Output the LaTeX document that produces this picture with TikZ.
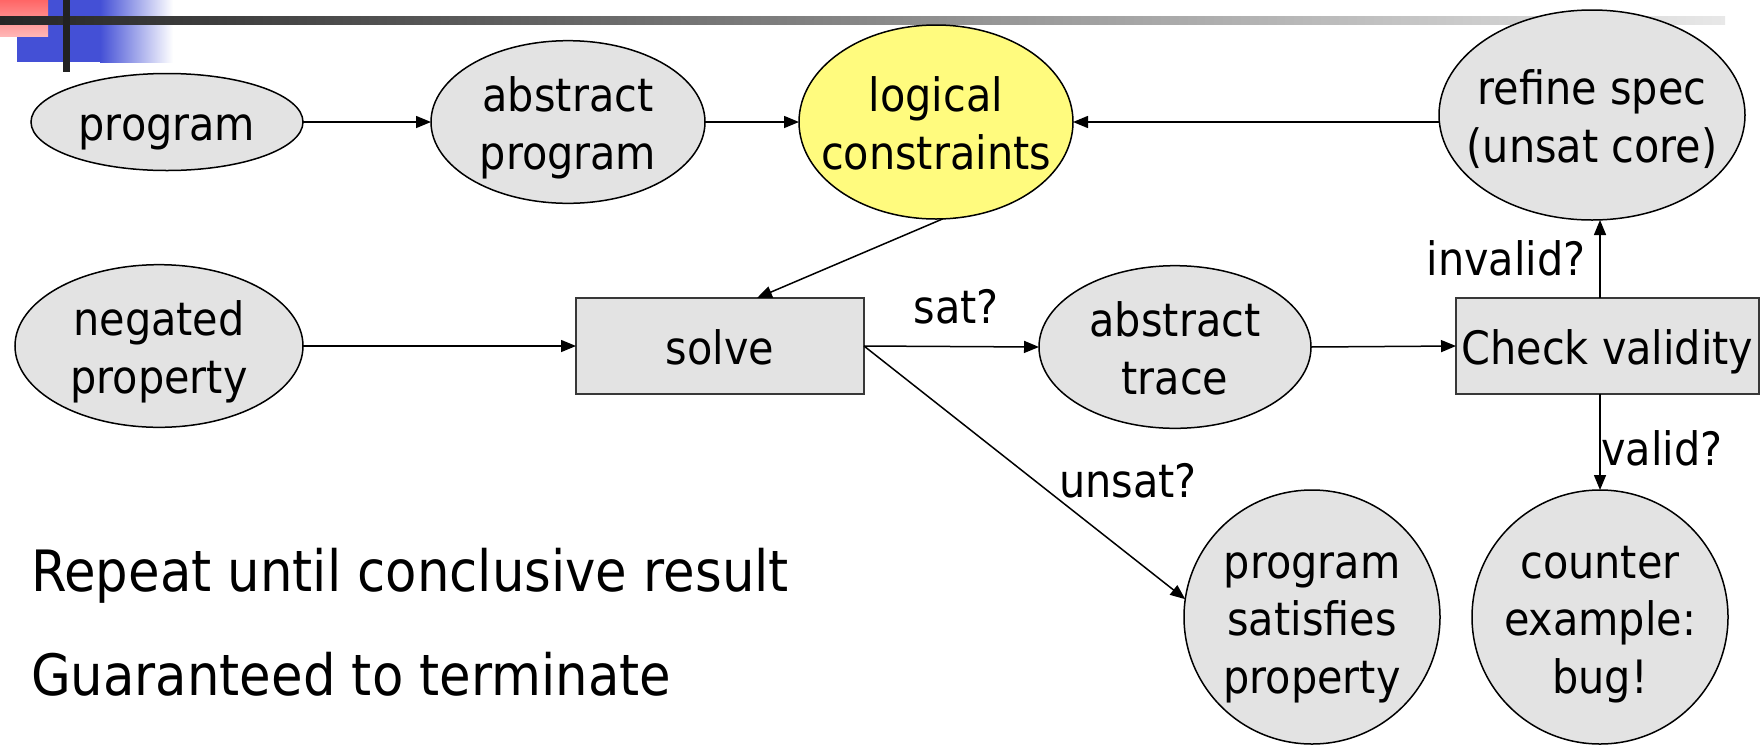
\documentclass[tikz,border=0pt]{standalone}
\usepackage{fontspec}
\newfontfamily\dvc{DejaVu Sans Condensed}
\usetikzlibrary{shapes.geometric,arrows.meta}

\definecolor{nodegray}{HTML}{E3E3E3}
\definecolor{hiyellow}{HTML}{FFFB7E}
\definecolor{barblue}{HTML}{4450D6}
\definecolor{boxline}{HTML}{383838}
\definecolor{bardark}{HTML}{262626}
\definecolor{barlight}{HTML}{E8E8E8}
\definecolor{tabred}{HTML}{FF6666}
\definecolor{tabpink}{HTML}{FFB6B6}

% node text: centred lines that do not widen the shape around them,
% set a little low, as slide text sits on its line box
\newcommand\ctr[1]{\makebox[0pt]{\raisebox{-7pt}[\height][\depth]{\begin{tabular}{@{}c@{}}#1\end{tabular}}}}
\newcommand\nodefont{\dvc\fontsize{46}{57.5}\selectfont}
\newcommand\bodyfont{\dvc\fontsize{57}{68}\selectfont}

\tikzset{
  gnode/.style={draw=black, line width=1.5pt, fill=nodegray, font=\nodefont, inner sep=0pt, outer sep=0pt},
  oval/.style={gnode, ellipse},
  stepbox/.style={gnode, rectangle, draw=boxline, line width=2pt},
  conn/.style={line width=1.5pt, -{Triangle[length=15pt,width=12pt]}},
  lbl/.style={font=\nodefont, inner sep=0pt, anchor=base},
  bodytext/.style={font=\bodyfont, inner sep=0pt, anchor=base west},
}

\begin{document}
\begin{tikzpicture}[x=1pt,y=-1pt]
\useasboundingbox (0,0) rectangle (1760,745);

% title ornament
\fill[barblue] (17,0) rectangle (101,62);
\shade[left color=barblue, right color=white] (100,0) rectangle (173,62);
\shade[top color=tabred, bottom color=tabpink] (0,0) rectangle (48,36);
\shade[left color=bardark, right color=barlight] (0,16) rectangle (1725,24);
\fill[bardark!90!black] (63,0) rectangle (70,72);

% flow nodes
\node[oval, minimum width=272, minimum height=97] (prog) at (167,122) {\ctr{program}};
\node[oval, minimum width=274, minimum height=160] (absprog) at (568,122) {\ctr{abstract\\program}};
\node[oval, fill=hiyellow, minimum width=274, minimum height=194] (lc) at (936,122) {\ctr{logical\\constraints}};
\node[oval, minimum width=306, minimum height=210] (refine) at (1592,115) {\ctr{refine spec\\(unsat core)}};
\node[oval, minimum width=288, minimum height=160] (negprop) at (159,346) {\ctr{negated\\property}};
\node[stepbox, minimum width=288, minimum height=96] (solve) at (720,346) {\ctr{solve}};
\node[oval, minimum width=272, minimum height=160] (trace) at (1175,347) {\ctr{abstract\\trace}};
\node[stepbox, minimum width=303, minimum height=96] (check) at (1607.5,346) {\ctr{Check validity}};
\node[oval, minimum width=256, minimum height=254] (holds) at (1312,617) {\ctr{program\\satisfies\\property}};
\node[oval, minimum width=256, minimum height=254] (cex) at (1600,617) {\ctr{counter\\example:\\bug!}};

% connectors
\coordinate (vx) at (1600,0);
\draw[conn] (prog.east) -- (absprog.west);
\draw[conn] (absprog.east) -- (lc.west);
\draw[conn] (refine.west |- lc.east) -- (lc.east);
\draw[conn] (lc.-86) -- ([xshift=37pt]solve.north);
\draw[conn] (negprop.east) -- (solve.west);
\draw[conn] (solve.east) -- (trace.west);
\draw[conn] (trace.east) -- (check.west);
\draw[conn] (check.north -| vx) -- (refine.south -| vx);
\draw[conn] (check.south -| vx) -- (cex.north);
\draw[conn] (solve.east) -- (holds.172);

% connector labels
\node[lbl] (lblsat) at (956,323) {sat?};
\node[lbl] (lblinvalid) at (1506,275) {invalid?};
\node[lbl] (lblvalid) at (1662,465) {valid?};
\node[lbl] (lblunsat) at (1128,497) {unsat?};

% notes
\node[bodytext] (note1) at (31,591) {Repeat until conclusive result};
\node[bodytext] (note2) at (31,695) {Guaranteed to terminate};
\end{tikzpicture}
\end{document}
